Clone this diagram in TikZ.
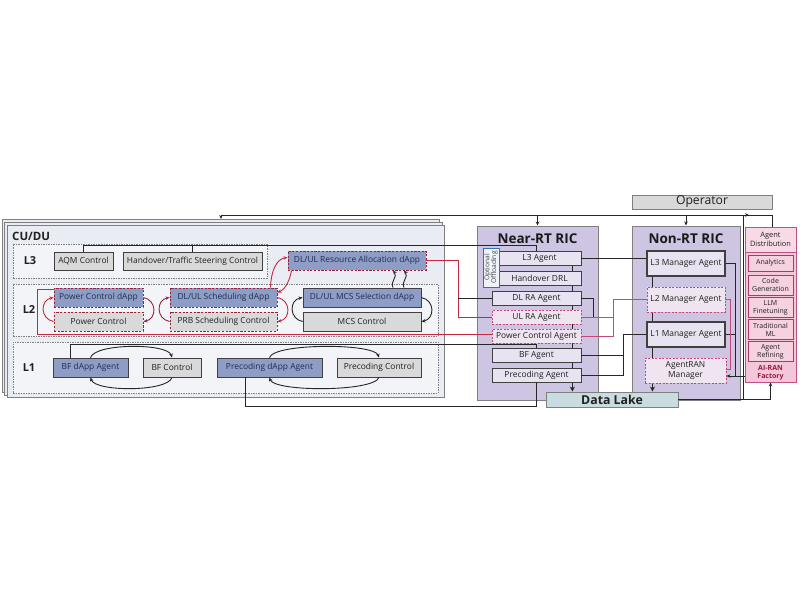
\documentclass[tikz,border=0pt]{standalone}
\usepackage{fontspec}
\setmainfont{Open Sans}
\usetikzlibrary{arrows.meta,calc}
\pgfdeclarelayer{back}
\pgfdeclarelayer{mid}
\pgfsetlayers{back,mid,main}
\definecolor{edge}{HTML}{404040}
\definecolor{grayf}{HTML}{D9D9D9}
\definecolor{dappf}{HTML}{8E9DC6}
\definecolor{dapptxt}{HTML}{1F2D4F}
\definecolor{cuduf}{HTML}{E9ECF3}
\definecolor{layerf}{HTML}{F3F4F8}
\definecolor{layeredge}{HTML}{808080}
\definecolor{ricf}{HTML}{CEC5E2}
\definecolor{ricedge}{HTML}{7F7F7F}
\definecolor{agentf}{HTML}{E8E3F1}
\definecolor{pagentf}{HTML}{EFE5F1}
\definecolor{pinkd}{HTML}{C4487A}
\definecolor{redA}{HTML}{C62842}
\definecolor{redB}{HTML}{9A2038}
\definecolor{offl}{HTML}{2E74B5}
\definecolor{offf}{HTML}{F0F4FA}
\definecolor{dlf}{HTML}{C9DCDF}
\definecolor{facf}{HTML}{F8DAE7}
\definecolor{faclow}{HTML}{F3C7D9}
\definecolor{facedge}{HTML}{C0507F}
\definecolor{facbox}{HTML}{F6D2E1}
\definecolor{facboxedge}{HTML}{A93A68}
\definecolor{factxt}{HTML}{9A1840}
\definecolor{txt}{HTML}{202020}
\tikzset{
  every node/.style={font=\fontsize{8.4}{9.6}\selectfont, text=txt, inner sep=0pt},
  frame/.style={draw=ricedge, fill=cuduf, line width=1pt},
  layerbox/.style={draw=layeredge, fill=layerf, line width=0.7pt, dash pattern=on 1.5pt off 1pt},
  lab/.style={font=\fontsize{11}{13}\selectfont\bfseries},
  gbox/.style={draw=edge, fill=grayf, line width=0.8pt, minimum height=18},
  dbox/.style={draw=edge, fill=dappf, line width=0.8pt, minimum height=19, text=dapptxt},
  rdash/.style={draw=redB, line width=0.9pt, dash pattern=on 2.2pt off 1.5pt},
  ric/.style={draw=ricedge, fill=ricf, line width=1pt},
  title/.style={font=\fontsize{13.5}{15}\selectfont\bfseries, text=black!90},
  agent/.style={draw=edge, fill=agentf, line width=0.8pt, minimum width=89, minimum height=14},
  pagent/.style={agent, draw=pinkd, fill=pagentf, dash pattern=on 2pt off 1.5pt},
  mgr/.style={draw=edge, fill=agentf, line width=1.1pt, minimum width=78, minimum height=25},
  pmgr/.style={mgr, draw=pinkd, fill=pagentf, line width=0.9pt, dash pattern=on 2pt off 1.5pt},
  fbox/.style={draw=facboxedge, fill=facbox, line width=0.8pt, minimum width=45, align=center, font=\fontsize{7}{7.8}\selectfont},
  conn/.style={draw=black!85, line width=0.9pt},
  arr/.style={conn, -{Stealth[length=4pt,width=3.5pt]}},
  redln/.style={draw=redA, line width=0.9pt},
  pinkln/.style={draw=pinkd, line width=0.9pt},
  redarr/.style={draw=redA, line width=0.9pt, -{Stealth[length=4pt,width=3.5pt]}},
  redarrB/.style={draw=redB, line width=0.9pt, -{Stealth[length=4pt,width=3.5pt]}},
  busarr/.style={draw=black!85, line width=1.8pt, -{Stealth[length=5pt,width=5pt]}},
}
\begin{document}
\begin{tikzpicture}[x=1pt,y=-1pt]
\useasboundingbox (0,0) rectangle (800,600);

\begin{pgfonlayer}{back}
  % CU/DU stack
  \node[frame, minimum width=437, minimum height=173] (cub2) at (220.5,305.5) {};
  \node[frame, minimum width=438, minimum height=173] (cub1) at (223,308.5) {};
  \node[frame, minimum width=437, minimum height=172] (cudu) at (225.5,311) {};
  \node[font=\fontsize{11.5}{13}\selectfont\bfseries, anchor=west] (cudut) at (12,236) {CU/DU};
  \node[layerbox, minimum width=254, minimum height=34] (L3) at (140,261) {};
  \node[layerbox, minimum width=425, minimum height=52] (L2) at (225.5,310) {};
  \node[layerbox, minimum width=425, minimum height=51] (L1) at (225.5,367.5) {};
  % RIC panels
  \node[ric, minimum width=121, minimum height=174] (nrt) at (537.5,313) {};
  \node[ric, minimum width=108, minimum height=174] (nonrt) at (686,313) {};
  % factory panel
  \node[draw=facedge, fill=facf, line width=0.9pt, minimum width=51, minimum height=155] (fac) at (770.5,304.5) {};
  \node[draw=facedge, fill=faclow, line width=0.9pt, minimum width=51, minimum height=130] (facl) at (770.5,317) {};
\end{pgfonlayer}

% layer labels
\node[lab] (l3t) at (30,261) {L3};
\node[lab] (l2t) at (29,310) {L2};
\node[lab] (l1t) at (29,367.5) {L1};

% L3 boxes
\node[gbox, minimum width=59] (aqm) at (83.5,261) {AQM Control};
\node[gbox, minimum width=139] (ho) at (192.5,261) {Handover/Traffic Steering Control};
\node[dbox, rdash, minimum width=138] (rad) at (357,260.5) {DL/UL Resource Allocation dApp};

% L2 boxes
\node[dbox, rdash, minimum width=89] (pcd) at (98.5,297.5) {Power Control dApp};
\node[gbox, rdash, minimum width=89, minimum height=19] (pc) at (98.5,321.5) {Power Control};
\node[dbox, rdash, minimum width=107] (schd) at (223.5,297.5) {DL/UL Scheduling dApp};
\node[gbox, rdash, minimum width=107, minimum height=19] (prb) at (223.5,321.5) {PRB Scheduling Control};
\node[dbox, minimum width=118] (mcsd) at (362,297.5) {DL/UL MCS Selection dApp};
\node[gbox, minimum width=118, minimum height=19] (mcs) at (362,321.5) {MCS Control};

% L1 boxes
\node[dbox, minimum width=75] (bfd) at (90.5,367.5) {BF dApp Agent};
\node[gbox, minimum width=58, minimum height=19] (bfc) at (172,367.5) {BF Control};
\node[dbox, minimum width=105] (prd) at (269.5,367.5) {Precoding dApp Agent};
\node[gbox, minimum width=84, minimum height=19] (prc) at (379,367.5) {Precoding Control};

% Near-RT RIC
\node[title] (nrtt) at (537.5,238.5) {Near-RT RIC};
\node[agent] (l3a) at (536.5,258) {\hspace{6pt}L3 Agent};
\node[agent] (hod) at (536.5,278) {\hspace{6pt}Handover DRL};
\node[agent] (dlra) at (536.5,298) {DL RA Agent};
\node[pagent] (ulra) at (536.5,317) {UL RA Agent};
\node[pagent] (pca) at (536.5,336) {Power Control Agent};
\node[agent] (bfa) at (536.5,355) {BF Agent};
\node[agent] (pra) at (536.5,375) {Precoding Agent};
\node[draw=offl, fill=offf, line width=0.8pt, minimum width=16, minimum height=39] (off) at (491,267.5) {};
\node[rotate=90, align=center, font=\fontsize{6.6}{6.9}\selectfont, text=black!75] (offt) at (off.center) {Optional\\Offloading};

% Non-RT RIC
\node[title] (nonrtt) at (686,238.5) {Non-RT RIC};
\node[mgr] (l3m) at (686,263.5) {L3 Manager Agent};
\node[pmgr] (l2m) at (686,299.5) {L2 Manager Agent};
\node[mgr] (l1m) at (686,334.5) {L1 Manager Agent};
\node[pmgr, minimum width=81, align=center] (arm) at (685.5,370.5) {AgentRAN\\Manager};

% Data lake, operator
\node[draw=ricedge, fill=dlf, line width=0.9pt, minimum width=132, minimum height=15, font=\fontsize{12.3}{13}\selectfont\bfseries] (dl) at (612,399.5) {Data Lake};
\node[draw=ricedge, fill=grayf, line width=0.9pt, minimum width=140, minimum height=14, font=\fontsize{12.2}{13}\selectfont] (op) at (702,202) {Operator};

% factory contents
\node[align=center, font=\fontsize{7.4}{8.4}\selectfont] (adist) at (770.5,239.5) {Agent\\Distribution};
\node[fbox, minimum height=16] (ana) at (770.5,263) {Analytics};
\node[fbox, minimum height=20] (cg) at (770.5,285) {Code\\Generation};
\node[fbox, minimum height=20] (llm) at (770.5,307.5) {LLM\\Finetuning};
\node[fbox, minimum height=20] (tml) at (770.5,329.5) {Traditional\\ML};
\node[fbox, minimum height=20] (ref) at (770.5,351.5) {Agent\\Refining};
\node[align=center, font=\fontsize{7}{8}\selectfont\bfseries, text=factxt] (aif) at (770.5,372.5) {AI-RAN\\Factory};

% ---------- buses inside RICs ----------
\begin{pgfonlayer}{mid}
  \coordinate (nb) at ($(l3a.south east)+(-9,0)$);
  \draw[busarr] (nb) -- (nb |- dl.north);
  \coordinate (mb) at ($(l3m.south west)+(6,0)$);
  \draw[busarr] (mb) -- (mb |- dl.north);
\end{pgfonlayer}

% ---------- top operator bus ----------
\coordinate (busR) at (772,215);
\coordinate (cuIn) at (221,219);
\draw[arr] (fac.north -| busR) |- (cuIn |- busR) -- (cuIn);
\draw[arr] (nrt.north |- busR) -- (nrt.north);
\draw[arr] (nonrt.north |- busR) -- (nonrt.north);
\coordinate (dlJ) at (743,399.5);
\coordinate (opJ) at (749,215);
\draw[arr] (dlJ) |- (opJ);
\draw[arr] (dl.east) -| (fac.south);

% ---------- Non-RT internal ----------
\coordinate (armIn) at ($(arm.east)+(0,5.5)$);
\draw[arr] (fac.west |- armIn) -- (armIn);
\draw[conn] (l3m.east) -| ($(armIn)+(9,0)$);
\draw[conn] (l1m.east) -- ($(l1m.east)+(10,0)$);
\draw[pinkln] (l2m.east) -- ++(5,0) |- ($(arm.east)+(0,-1)$);

% ---------- Near-RT <-> Non-RT ----------
\draw[conn] (l3a.east) -- (l3a.east -| l3m.west);
\coordinate (jU) at ($(ulra.east)+(32,0)$);
\draw[conn] (dlra.east) -| ($(ulra.east)+(12,0)$);
\draw[pinkln] (ulra.east) -- (jU) |- (l2m.west);
\draw[pinkln] (pca.east) -| (jU);
\coordinate (jB) at ($(bfa.east)+(42,0)$);
\draw[conn] (bfa.east) -- (jB) |- (l1m.west);
\draw[conn] (pra.east) -| (jB);

% ---------- CU/DU <-> Near-RT ----------
\draw[conn] (l3a.north) -- ++(0,-5) -| (aqm.north);
\draw[conn] (ho.north) -- ++(0,-6);
\draw[redln] (rad.east) -- ++(32,0) |- (ulra.west);
\draw[conn] (dlra.west) -- ++(-34,0);
\draw[redln] ($(pca.west)+(0,-2)$) -- ++(-454,0) |- ($(pcd.north west)+(0,2)$);
\draw[conn] ($(bfd.north west)+(18,0)$) -- ++(0,-13) -| (bfa.north);
\draw[conn] ($(prd.south west)+(29,0)$) -- ++(0,29) -| (pra.south);

% ---------- loops in CU/DU ----------
\draw[redarr] (pc.west) .. controls (40,319) and (40,300) .. (pcd.west);
\draw[redarrB] (pcd.east) .. controls (157,300) and (157,319) .. (pc.east);
\draw[redarrB] (prb.west) .. controls (156,319) and (156,300) .. (schd.west);
\draw[redarr] (schd.east) .. controls (291,300) and (291,319) .. (prb.east);
\draw[arr] (mcs.west) .. controls (289,319) and (289,300) .. (mcsd.west);
\draw[arr] (mcsd.east) .. controls (435,300) and (435,319) .. (mcs.east);
\draw[redarr] ($(schd.north east)+(-7,0)$) .. controls (271,272) and (276,259) .. ($(rad.west)+(0,-3)$);
\draw[redarr] ($(rad.south west)+(4,0)$) .. controls (290,279) and (286,289) .. ($(schd.east)+(0,-5)$);
\draw[arr] ($(mcsd.north)+(31,0)$) .. controls (390,281) and (398,277) .. ($(rad.south)+(36,0)$);
\draw[arr] ($(mcsd.north)+(42,0)$) .. controls (401,281) and (409,277) .. ($(rad.south)+(47,0)$);
\draw[arr] (bfd.north) .. controls (95,343) and (168,343) .. (bfc.north);
\draw[arr] (bfc.south) .. controls (168,392) and (95,392) .. (bfd.south);
\draw[arr] (prd.north) .. controls (274,343) and (374,343) .. (prc.north);
\draw[arr] (prc.south) .. controls (374,392) and (274,392) .. (prd.south);
\end{tikzpicture}
\end{document}
